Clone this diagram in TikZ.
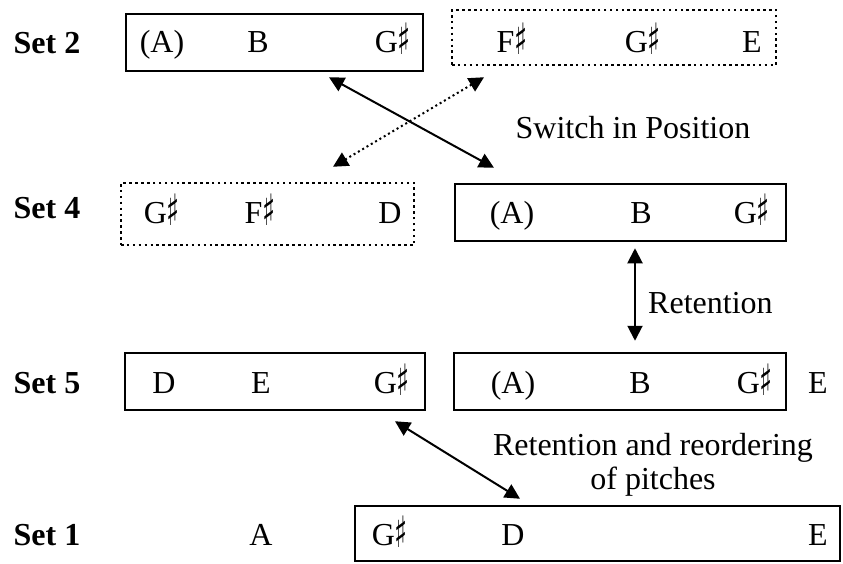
\documentclass[tikz,border=0pt]{standalone}
\usepackage{fontspec}
\setmainfont{Liberation Serif}
\newfontfamily\sharpfont{DejaVu Sans}
\newcommand{\shp}{\raisebox{-2pt}{\scalebox{0.85}[1.35]{\sharpfont\char"266F}}}
\usetikzlibrary{arrows.meta}

\tikzset{
  box/.style={draw, line width=2.5pt, inner sep=0pt},
  dotbox/.style={draw, line width=2.5pt, dash pattern=on 2.5pt off 3.4pt, inner sep=0pt},
  pitch/.style={anchor=base, inner sep=0pt, font=\fontsize{32}{34}\selectfont},
  setlabel/.style={anchor=base, inner sep=0pt, font=\fontsize{32}{34}\selectfont\bfseries},
  link/.style={{Triangle[length=15pt,width=15pt]}-{Triangle[length=15pt,width=15pt]}, line width=2pt},
}

\begin{document}
\begin{tikzpicture}[x=1pt,y=-1pt]
    \useasboundingbox (0,0) rectangle (843,563);

    % boxes
    \node[box, minimum width=297pt, minimum height=57pt] (s2a) at (274.5,42.5) {};
    \node[dotbox, minimum width=324pt, minimum height=55pt] (s2b) at (614,37.5) {};
    \node[dotbox, minimum width=293pt, minimum height=62pt] (s4a) at (267.5,214) {};
    \node[box, minimum width=331pt, minimum height=57pt] (s4b) at (620.5,212.5) {};
    \node[box, minimum width=300pt, minimum height=57pt] (s5a) at (275,381.5) {};
    \node[box, minimum width=332pt, minimum height=57pt] (s5b) at (620,381.5) {};
    \node[box, minimum width=485pt, minimum height=55pt] (s1) at (597.5,533.5) {};

    % set labels
    \node[setlabel] (lab2) at (47,53) {Set 2};
    \node[setlabel] (lab4) at (47,218) {Set 4};
    \node[setlabel] (lab5) at (47,393) {Set 5};
    \node[setlabel] (lab1) at (47,545) {Set 1};

    % pitches
    \foreach \x/\t/\n in {162/(A)/a, 258/B/b, 393/G\shp/c, 512/F\shp/d, 643/G\shp/e, 752/E/f}
        \node[pitch] (p2\n) at (\x,52) {\t};
    \foreach \x/\t/\n in {162/G\shp/a, 260/F\shp/b, 390/D/c, 512/(A)/d, 641/B/e, 752/G\shp/f}
        \node[pitch] (p4\n) at (\x,223) {\t};
    \foreach \x/\t/\n in {164/D/a, 261/E/b, 392/G\shp/c, 513/(A)/d, 640/B/e, 755/G\shp/f, 818/E/g}
        \node[pitch] (p5\n) at (\x,393) {\t};
    \foreach \x/\t/\n in {261/A/a, 390/G\shp/b, 513/D/c, 818/E/d}
        \node[pitch] (p1\n) at (\x,545) {\t};

    % notes
    \node[pitch] (switch) at (633,138) {Switch in Position};
    \node[pitch, anchor=base west] (retain) at (648,313) {Retention};
    \node[pitch, anchor=north, align=center] (reorder) at (653,433) {Retention and reordering\\of pitches};

    % connectors
    \draw[link] ([xshift=54.5pt,yshift=-5pt]s2a.south) -- ([xshift=-126.5pt,yshift=15pt]s4b.north);
    \draw[link, dash pattern=on 2pt off 3pt] ([xshift=-130pt,yshift=-11pt]s2b.south) -- ([xshift=65.5pt,yshift=15pt]s4a.north);
    \draw[link] ([xshift=14.5pt,yshift=-6pt]s4b.south) -- ([xshift=15pt,yshift=11pt]s5b.north);
    \draw[link] ([xshift=120pt,yshift=-10pt]s5a.south) -- ([xshift=-77.5pt,yshift=6pt]s1.north);
\end{tikzpicture}
\end{document}
